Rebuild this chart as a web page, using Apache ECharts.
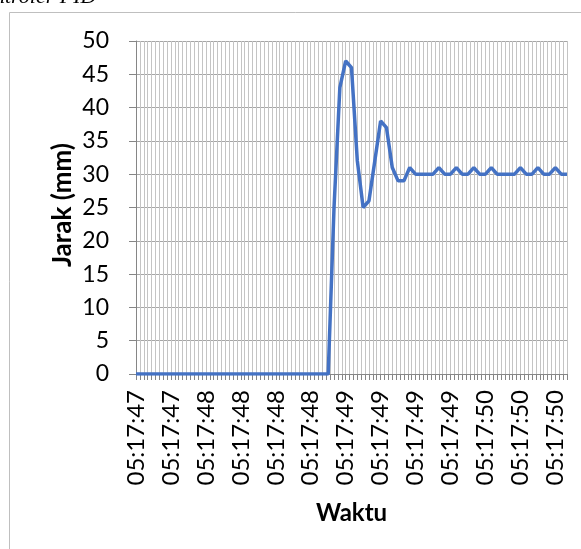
<!DOCTYPE html>
<html>
<head>
<meta charset="utf-8">
<script src="https://cdn.jsdelivr.net/npm/echarts@6/dist/echarts.min.js"></script>
<style>
  html, body { margin: 0; padding: 0; background: #fff; }
  #chart { width: 581px; height: 549px; }
</style>
</head>
<body>
<div id="chart"></div>
<script>
// label shown every 6th sample
const tickLabels = ['05:17:47', '05:17:47', '05:17:48', '05:17:48', '05:17:48', '05:17:48', '05:17:49',
  '05:17:49', '05:17:49', '05:17:49', '05:17:50', '05:17:50', '05:17:50']

// jarak (mm), one value per sample
const jarak = [
  0, 0, 0, 0, 0, 0, 0, 0, 0, 0,
  0, 0, 0, 0, 0, 0, 0, 0, 0, 0,
  0, 0, 0, 0, 0, 0, 0, 0, 0, 0,
  0, 0, 0, 0, 25, 43, 47, 46, 32, 25,
  26, 32, 38, 37, 31, 29, 29, 31, 30, 30,
  30, 30, 31, 30, 30, 31, 30, 30, 31, 30,
  30, 31, 30, 30, 30, 30, 31, 30, 30, 31,
  30, 30, 31, 30, 30
]

const categories = jarak.map((v, i) => tickLabels[Math.floor(i / 6)])

const fontLabel = 'Lato, "Open Sans", sans-serif'

const chart = echarts.init(document.getElementById('chart'))
chart.setOption({
  animation: false,
  graphic: [
    {
      type: 'rect',
      shape: { x: 9.5, y: 12.5, width: 700, height: 700 },
      style: { fill: 'none', stroke: '#bfbfbf', lineWidth: 1 }
    },
    {
      type: 'text',
      left: -6,
      top: -14,
      style: {
        text: 'ntroler PID',
        font: 'italic 22px "Liberation Serif", serif',
        fill: '#000'
      }
    },
    {
      // y axis title
      type: 'text',
      left: 50,
      top: 143,
      rotation: Math.PI / 2,
      style: {
        text: 'Jarak (mm)',
        font: 'bold 26px Lato, "Open Sans", sans-serif',
        fill: '#000'
      }
    }
  ],
  grid: {
    left: 136,
    right: 14,
    top: 41,
    bottom: 175
  },
  xAxis: [
    {
      type: 'category',
      data: categories,
      boundaryGap: false,
      name: 'Waktu',
      nameLocation: 'middle',
      nameGap: 127,
      nameTextStyle: { fontFamily: fontLabel, fontSize: 24, fontWeight: 'bold', color: '#000' },
      axisLine: { show: true, lineStyle: { color: '#868686', width: 1 } },
      axisTick: { show: false },
      splitLine: { show: false },
      axisLabel: {
        interval: 5,
        rotate: 90,
        margin: 16,
        fontFamily: fontLabel,
        fontSize: 24,
        color: '#000'
      }
    },
    {
      // fine vertical grid + ticks
      type: 'value',
      position: 'bottom',
      min: 0,
      max: 111,
      interval: 1,
      axisLine: { show: false },
      axisLabel: { show: false },
      axisTick: { show: true, length: 6, lineStyle: { color: '#868686' } },
      splitLine: { show: true, lineStyle: { color: '#c4c4c4', width: 1 } }
    }
  ],
  yAxis: {
    type: 'value',
    min: 0,
    max: 50,
    interval: 5,
    axisLine: { show: true, lineStyle: { color: '#868686', width: 1 } },
    axisTick: { show: true, length: 7, lineStyle: { color: '#868686' } },
    splitLine: { lineStyle: { color: '#a6a6a6', width: 1 } },
    axisLabel: {
      margin: 27,
      fontFamily: fontLabel,
      fontSize: 23,
      color: '#000'
    }
  },
  series: [{
    type: 'line',
    xAxisIndex: 0,
    data: jarak,
    showSymbol: false,
    lineStyle: { color: '#4472C4', width: 3.5 },
    itemStyle: { color: '#4472C4' }
  }]
})
</script>
</body>
</html>
